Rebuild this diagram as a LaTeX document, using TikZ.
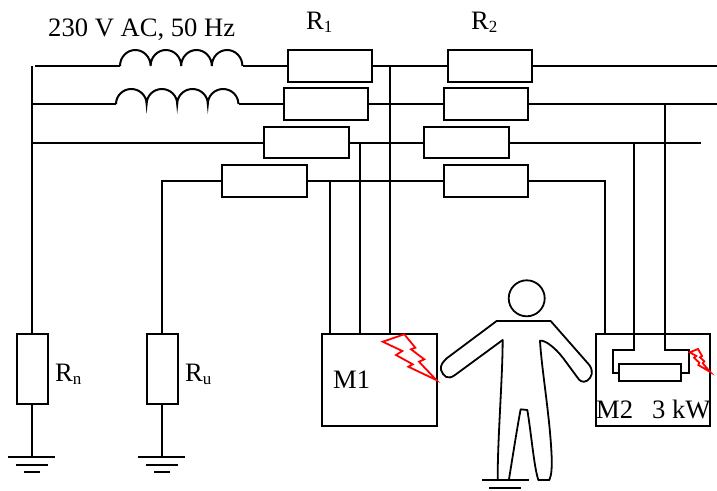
\documentclass[tikz,border=0pt]{standalone}
\usepackage{fontspec}
\setmainfont{Liberation Serif}
\newcommand{\lab}{\fontsize{26.6}{30}\selectfont}
\newcommand{\subs}[1]{{\fontsize{17}{20}\selectfont\raisebox{-3.5pt}{#1}}}
\tikzset{
  wire/.style={draw=black,line width=2pt},
  resbox/.style={draw=black,line width=2pt,fill=white,inner sep=0pt,minimum width=84.5pt,minimum height=31.5pt},
  vresbox/.style={draw=black,line width=2pt,fill=white,inner sep=0pt,minimum width=31pt,minimum height=69.5pt},
  devbox/.style={draw=black,line width=2pt,inner sep=0pt},
  lbl/.style={anchor=base west,inner sep=0pt,font=\lab},
  bolt/.style={draw=red,line width=1.8pt,line join=miter}
}
\begin{document}
\begin{tikzpicture}[x=1pt,y=-1pt]
\useasboundingbox (0,0) rectangle (717,490);
% resistors
\node[resbox] (Ra1) at (330,66) {};
\node[resbox] (Rb1) at (326,104) {};
\node[resbox] (Rc1) at (306.5,142.5) {};
\node[resbox] (Rd1) at (264.5,181) {};
\node[resbox] (Ra2) at (490,66) {};
\node[resbox] (Rb2) at (486,104) {};
\node[resbox] (Rc2) at (466.5,142.5) {};
\node[resbox] (Rd2) at (486,181) {};
\node[vresbox] (Rn) at (32,369) {};
\node[vresbox] (Ru) at (162,369) {};
% devices
\node[devbox,minimum width=115pt,minimum height=92pt] (M1) at (379,380) {};
\node[devbox,minimum width=114.5pt,minimum height=92pt] (M2) at (653,380) {};
\node[resbox,minimum width=61.5pt,minimum height=17pt] (Rh) at (650,372.5) {};
% free ends and junctions
\coordinate (a0) at (35,66);
\coordinate (a1) at (120,66);
\coordinate (a2) at (242.5,66);
\coordinate (b0) at (32,104);
\coordinate (b1) at (116,104);
\coordinate (b2) at (238.5,104);
\coordinate (c0) at (32,142.5);
\coordinate (top) at (32,65.5);
\coordinate (aend) at (717,66);
\coordinate (bend) at (717,104);
\coordinate (cend) at (700.5,142.5);
\coordinate (dend) at (605,181);
\coordinate (j1) at (390,66);
\coordinate (j2) at (360,142.5);
\coordinate (j3) at (329.5,181);
\coordinate (j4) at (665,104);
\coordinate (j5) at (634,142.5);
\coordinate (gn) at (32,456.5);
\coordinate (gu) at (162,456.5);
% phase lines
\draw[wire] (a0) -- (a1);
\draw[wire] (a1) arc[start angle=180,end angle=0,x radius=15.3pt,y radius=16pt]
  arc[start angle=180,end angle=0,x radius=15.3pt,y radius=16pt]
  arc[start angle=180,end angle=0,x radius=15.3pt,y radius=16pt]
  arc[start angle=180,end angle=0,x radius=15.3pt,y radius=16pt];
\draw[wire] (a2) -- (Ra1.west);
\draw[wire] (Ra1.east) -- (Ra2.west);
\draw[wire] (Ra2.east) -- (aend);
\draw[wire] (b0) -- (b1);
\draw[wire] (b1) arc[start angle=180,end angle=0,x radius=15.3pt,y radius=15pt]
  arc[start angle=180,end angle=0,x radius=15.3pt,y radius=15pt]
  arc[start angle=180,end angle=0,x radius=15.3pt,y radius=15pt]
  arc[start angle=180,end angle=0,x radius=15.3pt,y radius=15pt];
\draw[wire] (b2) -- (Rb1.west);
\draw[wire] (Rb1.east) -- (Rb2.west);
\draw[wire] (Rb2.east) -- (bend);
\draw[wire] (c0) -- (Rc1.west);
\draw[wire] (Rc1.east) -- (Rc2.west);
\draw[wire] (Rc2.east) -- (cend);
\draw[wire] (Ru.north) |- (Rd1.west);
\draw[wire] (Rd1.east) -- (Rd2.west);
\draw[wire] (Rd2.east) -| (dend |- M2.north);
\draw[wire] (top) -- (Rn.north);
% risers
\draw[wire] (j1) -- (j1 |- M1.north);
\draw[wire] (j2) -- (j2 |- M1.north);
\draw[wire] (j3) -- (j3 |- M1.north);
\coordinate (k1) at (634,349.5);
\coordinate (k2) at (612.5,349.5);
\coordinate (k3) at (665,349.5);
\coordinate (k4) at (689,349.5);
\draw[wire] (j5) -- (k1) -- (k2) -- (k2 |- Rh.west) -- (Rh.west);
\draw[wire] (j4) -- (k3) -- (k4) -- (k4 |- Rh.east) -- (Rh.east);
% earths
\draw[wire] (Rn.south) -- (gn);
\draw[wire] (Ru.south) -- (gu);
\draw[wire] (8,456.5) -- (55,456.5) (16,464.5) -- (47.5,464.5) (24,471.5) -- (40,471.5);
\draw[wire] (138,456.5) -- (184.5,456.5) (146,464.5) -- (177.5,464.5) (154,471.5) -- (170,471.5);
\draw[wire] (482,480) -- (528.5,480) (489,487.7) -- (521,487.7);
% bolts
\draw[bolt] (382.7,341.7) -- (404.3,334.3) -- (415.3,347.7) -- (411,349.3) -- (424.3,359.3) -- (419,361.7) -- (436.3,380) -- (408.3,366.7) -- (412.7,364.3) -- (396,355) -- (402.3,351) -- cycle;
\draw[bolt] (689.7,352.3) -- (698,349) -- (702,356) -- (700,357.3) -- (704.3,361.3) -- (702.7,363.3) -- (710.3,372) -- (698.3,365) -- (699.3,362.7) -- (694,357.7) -- (696.3,356) -- cycle;
% person
\node[circle,draw=black,line width=1.8pt,inner sep=0pt,minimum size=36pt] (head) at (526.7,298.3) {};
\begin{scope}[shift={(430,270)},x=0.3333pt,y=-0.3333pt]
\draw[wire,line width=1.8pt,line join=round]
 (203,628) .. controls (203,500) and (218,320) .. (218,210)
 -- (75,315) .. controls (52,332) and (40,318) .. (33,300)
 .. controls (30,285) and (40,275) .. (50,265)
 -- (200,153) -- (362,153) -- (478,285)
 .. controls (492,305) and (485,322) .. (472,332)
 .. controls (458,340) and (448,332) .. (442,322)
 -- (400,265) .. controls (375,232) and (345,210) .. (330,212)
 .. controls (335,300) and (360,440) .. (365,560)
 .. controls (366,590) and (365,615) .. (358,630)
 -- (325,630) .. controls (312,590) and (305,500) .. (292,420)
 -- (272,418) .. controls (262,470) and (248,560) .. (237,628);
\end{scope}
% labels
\node[lbl] (t230) at (48,36) {230 V AC, 50 Hz};
\node[lbl] (tR1) at (306,29) {R\subs{1}};
\node[lbl] (tR2) at (471,29) {R\subs{2}};
\node[lbl] (tRn) at (55,381) {R\subs{n}};
\node[lbl] (tRu) at (185,381) {R\subs{u}};
\node[lbl] (tM1) at (333,388) {M1};
\node[lbl] (tM2) at (596,418) {M2};
\node[lbl] (t3kW) at (652,418) {3 kW};
\end{tikzpicture}
\end{document}
